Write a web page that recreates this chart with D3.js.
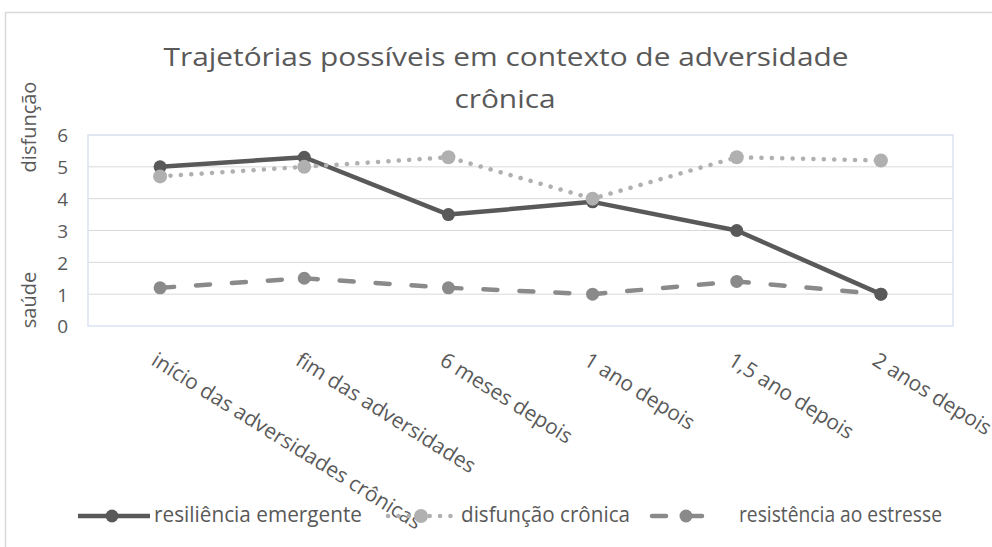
<!DOCTYPE html>
<html><head><meta charset="utf-8">
<script src="https://cdn.jsdelivr.net/npm/d3@7"></script>
<style>body{margin:0;background:#fff}svg{display:block}text{font-family:"Open Sans","Noto Sans",sans-serif;fill:#595959}</style>
</head><body>
<svg id="c" width="992" height="547"></svg>
<script>
const categories = ["início das adversidades crônicas","fim das adversidades","6 meses depois","1 ano depois","1,5 ano depois","2 anos depois"];
const resiliencia = [5.0, 5.3, 3.5, 3.9, 3.0, 1.0];
const disfuncao = [4.7, 5.0, 5.3, 4.0, 5.3, 5.2];
const resistencia = [1.2, 1.5, 1.2, 1.0, 1.4, 1.0];
const yTicks = [0,1,2,3,4,5,6];
const seriesNames = ["resiliência emergente","disfunção crônica","resistência ao estresse"];
const titleLines = ["Trajetórias  possíveis em contexto de adversidade","crônica"];

const svg = d3.select("#c");
// outer chart border
svg.append("rect").attr("x",5.5).attr("y",12.5).attr("width",1000).attr("height",560)
  .attr("fill","none").attr("stroke","#d9d9d9").attr("stroke-width",1.5);

const L=88,R=953,T=135,B=326;
const x = d3.scaleBand().domain(categories).range([L,R]);
const y = d3.scaleLinear().domain([0,6]).range([B,T]);
const cx = d => x(d)+x.bandwidth()/2;

// gridlines
svg.append("g").selectAll("line").data(yTicks.filter(t=>t>0)).join("line")
  .attr("x1",L).attr("x2",R).attr("y1",d=>y(d)).attr("y2",d=>y(d))
  .attr("stroke","#d9d9d9").attr("stroke-width",1);
// plot area border
svg.append("rect").attr("x",L).attr("y",T).attr("width",R-L).attr("height",B-T)
  .attr("fill","none").attr("stroke","#dae3f3").attr("stroke-width",1.5);

// y axis labels
const ya = svg.append("g").attr("transform",`translate(${L-20},0)`)
  .call(d3.axisLeft(y).tickValues(yTicks).tickFormat(d3.format("d")).tickSize(0).tickPadding(0));
ya.select(".domain").remove();
ya.selectAll("text").style("font-size","19px").attr("fill","#595959").attr("dy","0.36em");

// axis titles
svg.append("text").attr("transform","translate(36,127) rotate(-90)").attr("text-anchor","middle")
  .style("font-size","20px").text("disfunção");
svg.append("text").attr("transform","translate(36,300) rotate(-90)").attr("text-anchor","middle")
  .style("font-size","20px").text("saúde");

// x labels
const xa = svg.append("g").attr("transform",`translate(0,${B})`)
  .call(d3.axisBottom(x).tickSize(0).tickPadding(0));
xa.select(".domain").remove();
xa.selectAll("text").style("font-size","21px").attr("fill","#595959")
  .attr("text-anchor","start").attr("dy",null).attr("y",0)
  .attr("transform","translate(-10,38) rotate(32)");

// title
const tt = svg.append("text").attr("text-anchor","middle").style("font-size","26px");
const t1 = tt.append("tspan").attr("x",506).attr("y",66).text(titleLines[0]);
const t2 = tt.append("tspan").attr("x",505).attr("y",108).text(titleLines[1]);
const nat1 = t1.node().getComputedTextLength();
const ratio = 685/nat1;
t1.attr("textLength",685).attr("lengthAdjust","spacingAndGlyphs");
t2.attr("textLength",t2.node().getComputedTextLength()*ratio).attr("lengthAdjust","spacingAndGlyphs");

const styles = [
  {data:resiliencia,color:"#595959",dash:null,cap:"butt",r:6.5},
  {data:disfuncao,color:"#b0b0b0",dash:"0.1 10.3",cap:"round",r:7},
  {data:resistencia,color:"#8a8a8a",dash:"14 22",cap:"round",r:6.5}
];
const line = d3.line().x((d,i)=>cx(categories[i])).y(d=>y(d));
[2,0,1].forEach(k=>{
  const s=styles[k];
  svg.append("path").datum(s.data).attr("d",line).attr("fill","none")
    .attr("stroke",s.color).attr("stroke-width",4.5).attr("stroke-dasharray",s.dash)
    .attr("stroke-linecap",s.cap).attr("stroke-linejoin","round");
  svg.append("g").selectAll("circle").data(s.data).join("circle")
    .attr("cx",(d,i)=>cx(categories[i])).attr("cy",d=>y(d)).attr("r",s.r).attr("fill",s.color);
});

// legend
const leg = [
  {x1:78,x2:150,mx:112,tx:154,tw:208},
  {x1:388,x2:456,mx:421,tx:461,tw:169},
  {x1:652,x2:722,mx:686,tx:739,tw:203}
];
const ly=516;
leg.forEach((g,k)=>{
  const s=styles[k];
  svg.append("line").attr("x1",g.x1).attr("x2",g.x2).attr("y1",ly).attr("y2",ly)
    .attr("stroke",s.color).attr("stroke-width",4.5).attr("stroke-dasharray",s.dash).attr("stroke-linecap",s.cap);
  svg.append("circle").attr("cx",g.mx).attr("cy",ly).attr("r",s.r).attr("fill",s.color);
  svg.append("text").attr("x",g.tx).attr("y",522).style("font-size","21px")
    .attr("textLength",g.tw).attr("lengthAdjust","spacingAndGlyphs").text(seriesNames[k]);
});
</script>
</body></html>
